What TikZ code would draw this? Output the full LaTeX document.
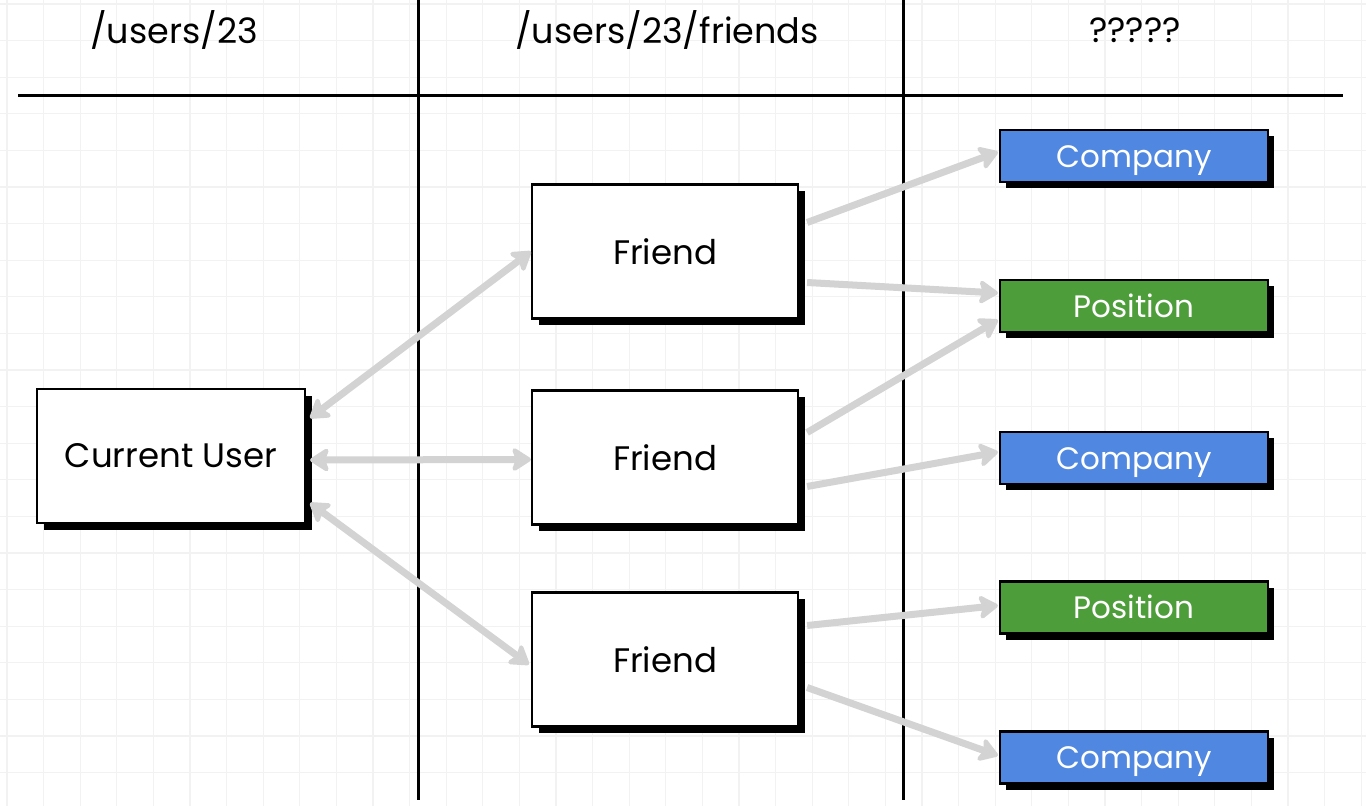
\documentclass[tikz,border=0pt]{standalone}
\usepackage{fontspec}
\setmainfont{Poppins}
\usetikzlibrary{arrows.meta,shadows}
\definecolor{gridc}{HTML}{F2F2F2}
\definecolor{arrc}{HTML}{D3D3D3}
\definecolor{boxblue}{HTML}{5087E0}
\definecolor{boxgreen}{HTML}{4E9D3B}
\tikzset{
  box/.style={draw=black, line width=2.2pt, fill=white, minimum width=266pt, minimum height=134pt,
    inner sep=0pt, font=\fontsize{34}{38}\selectfont,
    drop shadow={shadow xshift=6.5pt, shadow yshift=-6.5pt, opacity=1, fill=black}},
  tag/.style={draw=black, line width=2.2pt, minimum width=268pt, minimum height=52pt, inner sep=0pt,
    text height=22pt, text depth=0pt,
    text=white, font=\fontsize{31}{34}\selectfont,
    drop shadow={shadow xshift=6pt, shadow yshift=-6pt, opacity=1, fill=black}},
  company/.style={tag, fill=boxblue},
  position/.style={tag, fill=boxgreen},
  head/.style={font=\fontsize{35}{38}\selectfont},
  divider/.style={draw=black, line width=3pt},
  link/.style={draw=arrc, line width=7pt, -{Stealth[length=22pt,width=28pt,inset=5pt,round]}},
  dlink/.style={draw=arrc, line width=7pt, {Stealth[length=22pt,width=28pt,inset=5pt,round]}-{Stealth[length=22pt,width=28pt,inset=5pt,round]}},
}
\begin{document}
\begin{tikzpicture}[x=1pt,y=-1pt]
\useasboundingbox (0,0) rectangle (1366,806);
\fill[white] (0,0) rectangle (1366,806);
% grid
\foreach \i in {0,...,37} {\draw[gridc, line width=1.2pt] (7+36.6*\i,0) -- (7+36.6*\i,806);}
\foreach \j in {0,...,22} {\draw[gridc, line width=1.2pt] (0,4+36.6*\j) -- (1366,4+36.6*\j);}
% dividers
\coordinate (hl) at (18,95);
\coordinate (hr) at (1343,95);
\coordinate (v1t) at (418,0);
\coordinate (v1b) at (418,800);
\coordinate (v2t) at (903,0);
\coordinate (v2b) at (903,800);
\draw[divider] (hl) -- (hr);
\draw[divider] (v1t) -- (v1b);
\draw[divider] (v2t) -- (v2b);
% headers
\node[head] (h1) at (174,30) {/users/23};
\node[head] (h2) at (667,30) {/users/23/friends};
\node[head] (h3) at (1135,30) {?????};
% boxes
\node[box, minimum width=268pt] (cu) at (171,456) {Current User};
\node[box] (f1) at (665,251.5) {Friend};
\node[box] (f2) at (665,457.5) {Friend};
\node[box] (f3) at (665,659.5) {Friend};
\node[company] (c1) at (1134,156) {Company};
\node[position] (p1) at (1134,306) {Position};
\node[company] (c2) at (1134,458) {Company};
\node[position] (p2) at (1134,607.5) {Position};
\node[company] (c3) at (1134,757.5) {Company};
% links
\draw[dlink] ([xshift=4pt,yshift=38pt]cu.east) -- (f1.west);
\draw[dlink] ([xshift=4pt,yshift=-4pt]cu.east) -- ([yshift=-2pt]f2.west);
\draw[dlink] ([xshift=4pt,yshift=-47pt]cu.east) -- ([xshift=-2pt,yshift=-5pt]f3.west);
\draw[link] ([xshift=8pt,yshift=29pt]f1.east) -- ([xshift=-1pt,yshift=4pt]c1.west);
\draw[link] ([xshift=8pt,yshift=-31pt]f1.east) -- ([xshift=-1pt,yshift=13pt]p1.west);
\draw[link] ([xshift=8pt,yshift=25pt]f2.east) -- ([xshift=-1pt,yshift=-14pt]p1.west);
\draw[link] ([xshift=8pt,yshift=-29pt]f2.east) -- ([xshift=-1pt,yshift=6pt]c2.west);
\draw[link] ([xshift=8pt,yshift=34pt]f3.east) -- ([xshift=-1pt,yshift=2pt]p2.west);
\draw[link] ([xshift=8pt,yshift=-28pt]f3.east) -- ([xshift=-1pt,yshift=2pt]c3.west);
\end{tikzpicture}
\end{document}
